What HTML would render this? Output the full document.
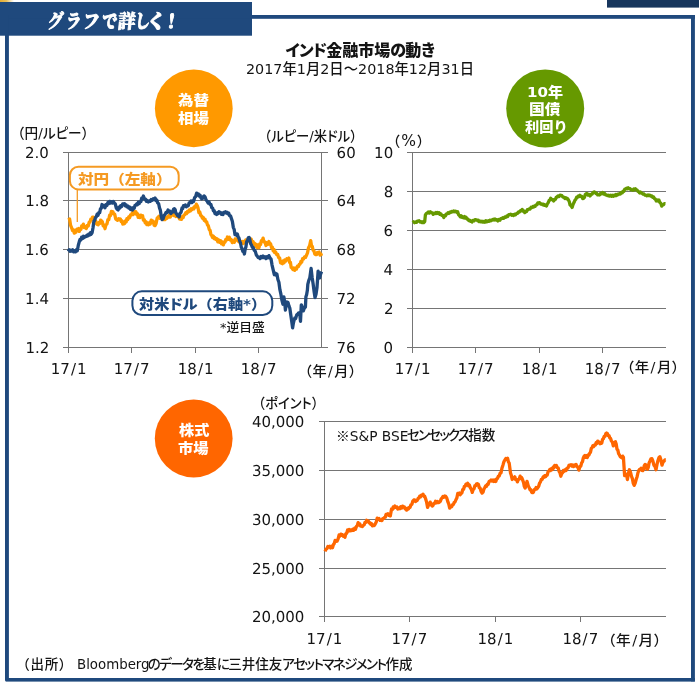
<!DOCTYPE html>
<html lang="ja"><head><meta charset="utf-8"><title>インド金融市場の動き</title>
<style>
html,body{margin:0;padding:0;background:#fff;}
body{width:699px;height:685px;position:relative;overflow:hidden;font-family:"DejaVu Sans","Liberation Sans","Noto Sans CJK JP",sans-serif;color:#141414;}
svg{position:absolute;left:0;top:0;}
.t{font-weight:500;position:absolute;white-space:nowrap;line-height:1.2;transform-origin:0 0;}
.p{font-feature-settings:"palt" 1;letter-spacing:var(--ls,0);}
.hd{font-family:"Liberation Serif","Noto Serif CJK JP","Noto Serif CJK SC",serif;font-weight:900;color:#fff;font-size:19px;-webkit-text-stroke:0.9px currentColor;}
.hd span,.hd i{display:inline-block;transform:skewX(-6deg);font-style:normal;}
.ttl{font-weight:900;font-size:16px;}
.sub{font-size:14.5px;}
.u{font-size:14px;}
.ax{font-size:15px;text-rendering:geometricPrecision;}
.lg{font-weight:900;font-size:13.8px;}
.sm{font-size:12px;}
.nt{font-size:13.5px;}
.src{font-size:13.5px;}
.cl{font-weight:900;font-size:14px;color:#fff;}
.sl{padding:0 1.1px;}
.j{font-family:"Noto Sans CJK JP",sans-serif;}
.g{position:absolute;left:0;top:0;width:0;height:0;}
.s{display:inline-block;position:relative;transform-origin:0 0;vertical-align:top;}
</style></head><body>
<svg width="699" height="685" viewBox="0 0 699 685">
<defs><linearGradient id="gd" x1="0" x2="1" y1="0" y2="0"><stop offset="0" stop-color="#e4ad33"/><stop offset="0.45" stop-color="#e8bd58"/><stop offset="1" stop-color="#ffffff"/></linearGradient></defs>
<rect x="0" y="0" width="14" height="2" fill="url(#gd)"/>
<rect x="607" y="0" width="92" height="7.6" fill="#17365d"/>
<rect x="0" y="2" width="252" height="33.7" fill="#1f497d"/>
<rect x="5" y="15" width="690" height="3.8" fill="#1f497d"/>
<rect x="5" y="15" width="3.9" height="665.8" fill="#1f497d"/>
<rect x="691" y="15" width="3.9" height="666.4" fill="#1f497d"/>
<rect x="5.6" y="678" width="689.3" height="3.6" fill="#1f497d"/>
<circle cx="193.8" cy="108.4" r="38.9" fill="#ff9900"/>
<circle cx="545.2" cy="108.4" r="39" fill="#669900"/>
<circle cx="193.7" cy="438.5" r="38.9" fill="#ff6600"/>
<g fill="#757575" shape-rendering="crispEdges">
<rect x="63" y="152" width="265" height="1"/>
<rect x="63" y="200" width="265" height="1"/>
<rect x="63" y="249" width="265" height="1"/>
<rect x="63" y="298" width="265" height="1"/>
<rect x="63" y="347" width="265" height="1"/>
<rect x="68" y="152" width="1" height="201"/>
<rect x="131" y="348" width="1" height="5"/>
<rect x="195" y="348" width="1" height="5"/>
<rect x="258" y="348" width="1" height="5"/>
<rect x="321" y="152" width="1" height="196"/>
<rect x="407" y="152" width="259" height="1"/>
<rect x="407" y="191" width="259" height="1"/>
<rect x="407" y="230" width="259" height="1"/>
<rect x="407" y="269" width="259" height="1"/>
<rect x="407" y="308" width="259" height="1"/>
<rect x="407" y="347" width="259" height="1"/>
<rect x="412" y="152" width="1" height="201"/>
<rect x="475" y="348" width="1" height="5"/>
<rect x="539" y="348" width="1" height="5"/>
<rect x="602" y="348" width="1" height="5"/>
<rect x="319" y="421" width="347" height="1"/>
<rect x="319" y="470" width="347" height="1"/>
<rect x="319" y="519" width="347" height="1"/>
<rect x="319" y="568" width="347" height="1"/>
<rect x="319" y="616" width="347" height="1"/>
<rect x="324" y="421" width="1" height="201"/>
<rect x="409" y="617" width="1" height="5"/>
<rect x="495" y="617" width="1" height="5"/>
<rect x="580" y="617" width="1" height="5"/>
</g>
<g fill="none" stroke-width="3.3" stroke-linejoin="round" stroke-linecap="butt">
<path stroke="#ff9900" d="M68.4,220.0 L69.6,218.9 L70.6,225.4 L71.7,228.0 L72.6,230.6 L73.4,229.7 L74.3,233.1 L75.2,232.4 L76.0,232.1 L76.7,229.4 L77.5,229.1 L78.4,228.6 L79.3,231.4 L80.1,229.1 L80.9,229.4 L81.7,225.9 L82.5,226.8 L83.4,224.1 L84.3,227.5 L85.3,226.7 L86.3,228.6 L87.3,225.4 L88.2,226.0 L89.2,222.1 L90.0,222.1 L90.8,219.3 L91.6,219.6 L92.5,217.2 L93.3,217.2 L94.1,217.3 L94.9,220.7 L95.7,220.9 L96.6,224.0 L97.4,224.4 L98.2,224.8 L99.0,222.5 L99.8,223.5 L100.6,220.1 L101.5,220.8 L102.3,221.6 L103.2,225.9 L104.1,224.9 L105.0,228.7 L105.9,224.8 L106.9,224.2 L107.9,219.6 L108.8,219.7 L109.6,215.2 L110.5,215.5 L111.4,211.4 L112.2,213.3 L112.9,211.7 L113.7,213.9 L114.7,214.1 L115.7,218.9 L116.6,219.6 L117.6,220.3 L118.6,218.7 L119.6,219.7 L120.4,219.0 L121.2,221.6 L122.0,220.8 L122.8,224.1 L123.6,223.1 L124.5,223.7 L125.3,220.9 L126.1,222.0 L126.9,218.6 L127.7,219.6 L128.7,217.0 L129.6,217.7 L130.5,215.0 L131.5,214.9 L132.4,212.6 L133.3,214.5 L134.2,211.5 L135.0,213.3 L135.9,211.7 L136.7,214.6 L137.4,213.6 L138.2,217.4 L139.1,215.3 L139.9,217.6 L140.8,215.1 L141.7,216.1 L142.6,215.8 L143.4,220.2 L144.3,219.8 L145.2,222.9 L146.0,221.7 L146.8,224.6 L147.6,222.8 L148.5,224.8 L149.3,223.0 L150.2,224.0 L151.2,220.1 L152.2,220.9 L153.2,221.1 L154.1,225.2 L155.1,225.6 L156.1,223.5 L157.1,218.4 L158.0,217.3 L158.9,216.3 L159.8,218.3 L160.7,216.6 L161.5,218.3 L162.4,217.3 L163.3,219.6 L164.2,217.6 L165.0,219.6 L165.9,217.5 L166.8,218.4 L167.7,216.6 L168.5,217.1 L169.4,215.0 L170.3,217.0 L171.2,213.6 L172.0,215.1 L173.0,213.2 L173.9,215.6 L174.8,213.7 L175.8,216.5 L176.7,215.3 L177.6,216.7 L178.6,216.5 L179.5,219.0 L180.5,217.6 L181.4,219.4 L182.3,216.7 L183.1,217.6 L184.0,215.0 L184.9,214.7 L185.8,212.6 L186.6,213.6 L187.5,211.4 L188.4,212.1 L189.3,209.9 L190.3,211.1 L191.2,208.7 L192.1,209.6 L193.1,208.1 L193.9,208.8 L194.7,206.4 L195.5,207.0 L196.3,204.2 L197.2,205.6 L198.0,207.8 L198.9,212.6 L199.8,212.1 L200.7,215.5 L201.5,215.9 L202.4,218.2 L203.3,217.5 L204.2,220.3 L205.0,219.2 L205.9,222.0 L206.7,221.9 L207.5,225.2 L208.2,225.3 L209.3,229.7 L210.1,230.3 L210.9,234.5 L211.7,235.5 L212.6,237.6 L213.4,236.1 L214.3,238.7 L215.2,237.8 L216.1,239.5 L216.9,238.7 L217.8,241.7 L218.7,240.0 L219.6,242.3 L220.6,240.7 L221.5,243.7 L222.4,242.0 L223.4,244.9 L224.2,241.9 L225.0,242.2 L225.8,239.5 L226.6,240.1 L227.4,237.0 L228.4,239.4 L229.4,237.2 L230.4,240.1 L231.3,239.7 L232.3,242.6 L233.3,241.1 L234.3,242.2 L235.2,238.9 L236.2,239.4 L237.1,238.8 L238.0,241.1 L238.8,239.9 L239.7,242.4 L240.6,241.5 L241.5,243.1 L242.3,241.5 L243.2,243.5 L244.1,241.4 L245.0,242.7 L245.8,239.9 L246.7,241.5 L247.6,239.9 L248.5,240.9 L249.3,239.0 L250.2,240.4 L251.2,239.1 L252.1,242.3 L253.0,241.6 L254.0,244.5 L254.9,243.5 L255.7,246.3 L256.5,244.5 L257.3,247.5 L258.2,245.3 L259.0,247.7 L259.8,243.8 L260.6,244.4 L261.4,240.6 L262.2,240.7 L263.1,238.1 L264.0,242.0 L265.0,242.0 L266.0,245.5 L267.0,242.7 L267.9,244.3 L268.9,241.5 L269.8,244.2 L270.7,244.0 L271.5,247.7 L272.4,247.2 L273.2,250.8 L274.0,249.4 L274.7,252.7 L275.7,252.1 L276.7,254.6 L277.7,254.5 L278.6,257.6 L279.6,257.8 L280.6,262.9 L281.5,263.1 L282.4,263.8 L283.2,260.9 L284.0,262.7 L284.8,260.0 L285.8,261.1 L286.8,258.8 L287.8,259.6 L288.8,258.1 L289.6,262.4 L290.4,262.3 L291.2,267.4 L292.0,267.9 L292.9,269.6 L293.8,267.9 L294.7,270.4 L295.6,268.3 L296.5,269.1 L297.4,266.3 L298.4,266.6 L299.3,264.3 L300.1,264.1 L300.9,261.4 L301.7,262.2 L302.6,258.7 L303.5,258.9 L304.5,256.9 L305.5,257.4 L306.5,255.2 L307.5,252.9 L308.5,247.9 L309.6,245.9 L310.7,240.6 L311.5,245.8 L312.3,246.3 L313.1,250.3 L313.9,250.7 L314.8,254.1 L315.7,254.6 L316.6,254.6 L317.4,252.5 L318.3,252.7 L319.1,252.1 L320.0,255.1 L320.8,253.9 L321.6,255.9"/>
<path stroke="#1f497d" d="M68.4,251.5 L69.2,249.7 L70.0,251.2 L70.9,250.2 L71.7,251.1 L72.7,249.8 L73.6,251.9 L74.6,250.9 L75.5,251.8 L76.4,249.8 L77.3,250.8 L78.3,245.3 L79.3,241.6 L80.0,239.4 L80.8,239.9 L81.6,237.1 L82.5,238.6 L83.4,236.3 L84.2,237.6 L85.1,236.3 L86.0,236.5 L86.9,235.3 L87.7,236.0 L88.6,234.2 L89.5,235.1 L90.4,232.8 L91.2,234.3 L92.1,232.7 L93.0,227.8 L93.9,221.2 L94.6,220.5 L95.4,217.8 L96.2,217.1 L97.1,214.3 L98.0,215.3 L98.8,212.7 L99.7,212.6 L100.5,208.7 L101.3,208.3 L102.0,204.5 L103.0,206.8 L104.0,205.6 L105.0,207.7 L105.9,204.6 L106.9,205.4 L107.9,202.5 L108.8,203.5 L109.6,201.4 L110.5,203.0 L111.4,201.7 L112.4,203.1 L113.3,201.4 L114.3,203.1 L115.3,204.0 L116.3,208.0 L117.2,209.2 L118.1,209.9 L119.0,207.2 L119.9,207.9 L120.7,205.6 L121.7,206.4 L122.7,203.9 L123.6,204.1 L124.5,203.7 L125.3,205.8 L126.1,204.8 L126.9,206.9 L127.7,205.9 L128.7,208.0 L129.6,207.0 L130.5,209.5 L131.5,208.1 L132.4,210.1 L133.3,207.7 L134.2,208.3 L135.0,205.4 L135.9,205.3 L136.7,203.9 L137.5,204.7 L138.4,202.1 L139.2,203.6 L140.0,201.9 L140.9,201.7 L141.7,198.2 L142.6,198.9 L143.4,196.0 L144.4,198.8 L145.4,199.0 L146.4,201.4 L147.3,200.6 L148.3,201.9 L149.3,201.0 L150.2,201.4 L151.2,199.6 L152.2,200.3 L153.2,198.8 L154.1,199.5 L155.1,198.1 L156.0,200.6 L156.9,200.3 L157.7,202.9 L158.6,203.5 L159.5,207.9 L160.4,210.4 L161.2,216.0 L162.1,219.6 L163.1,218.7 L164.1,215.4 L165.0,214.6 L166.0,212.4 L167.0,212.7 L168.0,210.0 L168.9,211.8 L169.9,211.3 L170.9,213.6 L171.8,211.6 L172.6,212.1 L173.5,209.2 L174.4,208.7 L175.2,209.8 L175.9,213.3 L176.7,213.9 L177.5,215.6 L178.3,215.3 L179.1,216.9 L180.0,213.3 L181.0,212.3 L182.0,208.0 L182.7,208.7 L183.5,205.6 L184.3,206.2 L185.3,204.9 L186.3,206.8 L187.2,205.9 L188.2,205.8 L189.2,202.9 L190.1,202.3 L191.0,201.1 L191.9,202.6 L192.8,200.8 L193.6,201.4 L194.6,197.7 L195.6,196.7 L196.6,193.1 L197.4,195.1 L198.3,193.9 L199.2,196.0 L200.1,195.3 L200.9,197.8 L201.8,198.8 L202.6,198.5 L203.4,196.5 L204.2,195.9 L205.1,197.1 L206.1,200.0 L207.1,201.1 L208.1,203.1 L209.0,201.9 L210.0,204.4 L210.9,204.3 L211.7,207.7 L212.6,208.0 L213.4,210.7 L214.2,210.7 L215.0,213.6 L215.8,213.4 L216.6,214.5 L217.4,212.6 L218.2,213.5 L219.0,211.7 L219.9,212.3 L220.6,212.5 L221.4,214.4 L222.2,214.2 L223.0,214.6 L223.7,212.3 L224.5,212.3 L225.3,211.8 L226.2,213.1 L227.0,212.3 L227.8,213.8 L228.6,212.9 L229.6,215.7 L230.6,215.9 L231.5,218.8 L232.4,221.5 L233.3,227.3 L234.2,229.5 L235.0,234.7 L235.8,233.5 L236.6,235.2 L237.4,234.1 L238.2,237.2 L238.9,237.8 L239.7,241.0 L240.5,243.0 L241.3,247.2 L242.0,248.6 L242.8,251.3 L243.6,250.9 L244.4,254.0 L245.2,249.1 L245.9,247.0 L246.7,241.6 L247.5,240.7 L248.3,237.8 L249.1,237.4 L249.8,239.3 L250.6,243.7 L251.4,244.9 L252.4,247.3 L253.3,247.8 L254.3,250.4 L255.3,251.4 L256.3,254.9 L257.2,256.1 L258.2,257.5 L259.2,257.1 L260.1,258.6 L261.1,256.5 L262.1,257.5 L263.1,256.0 L264.0,257.6 L265.0,256.8 L266.0,258.6 L267.0,256.7 L267.9,257.7 L268.9,255.6 L270.0,258.0 L271.0,258.9 L272.0,264.8 L273.0,269.1 L274.3,274.7 L275.2,273.1 L276.1,275.2 L276.9,274.1 L277.9,279.5 L278.9,282.3 L279.9,289.7 L280.9,294.2 L281.9,300.2 L282.9,304.2 L283.9,296.9 L284.7,302.4 L285.4,310.0 L286.2,304.8 L287.0,302.0 L288.0,302.5 L289.0,306.1 L289.8,308.1 L290.5,313.0 L291.6,320.6 L292.6,327.9 L293.4,323.1 L294.1,320.2 L294.9,317.9 L295.7,318.4 L296.7,314.9 L297.7,314.2 L298.7,312.8 L299.7,313.0 L300.5,321.3 L301.3,304.8 L302.3,306.9 L303.3,310.9 L304.3,308.2 L305.4,307.1 L305.9,296.8 L306.6,294.7 L307.4,290.0 L307.8,284.4 L308.8,280.3 L309.8,278.0 L311.1,268.5 L312.1,277.3 L313.1,283.7 L314.1,291.5 L315.0,297.5 L316.0,294.2 L317.0,287.6 L318.1,271.2 L318.8,273.5 L319.6,278.0 L320.6,274.0 L321.6,271.6"/>
<path stroke="#669900" d="M412.6,222.5 L413.6,221.8 L414.5,222.7 L415.5,222.0 L416.4,222.4 L417.3,221.2 L418.1,221.1 L419.1,220.7 L420.1,222.0 L421.1,221.6 L422.1,222.6 L423.0,221.7 L423.8,222.6 L424.7,221.7 L425.4,214.9 L426.4,213.4 L427.3,213.0 L428.3,212.0 L429.3,213.0 L430.3,211.8 L431.3,212.6 L432.3,212.9 L433.2,214.3 L434.1,213.1 L435.0,213.5 L435.9,212.6 L436.7,213.4 L437.5,212.5 L438.3,213.6 L439.2,212.8 L440.0,214.4 L440.9,213.9 L441.8,215.5 L442.8,215.7 L443.8,217.5 L444.6,215.5 L445.5,215.8 L446.4,213.9 L447.2,213.9 L448.0,212.8 L448.9,213.4 L449.7,212.1 L450.7,212.5 L451.6,211.4 L452.6,211.9 L453.6,210.9 L454.6,211.7 L455.6,211.1 L456.6,212.3 L457.6,211.7 L458.5,214.6 L459.5,215.7 L460.3,216.9 L461.2,215.8 L462.0,217.3 L462.8,216.9 L463.6,217.8 L464.5,216.6 L465.3,218.1 L466.1,217.3 L467.0,219.0 L467.8,219.0 L468.7,220.5 L469.5,220.1 L470.4,221.3 L471.2,221.0 L472.0,221.9 L473.0,220.4 L474.0,220.9 L475.0,219.6 L475.9,219.9 L476.8,219.8 L477.6,220.8 L478.4,220.3 L479.2,221.6 L480.2,221.1 L481.1,221.9 L482.0,221.2 L482.9,222.1 L483.8,221.4 L484.8,222.2 L485.8,220.7 L486.8,221.8 L487.8,220.9 L488.8,221.3 L489.7,220.3 L490.7,220.8 L491.7,219.8 L492.5,220.1 L493.4,219.2 L494.2,219.9 L495.0,219.1 L496.0,220.0 L496.9,219.6 L497.9,220.9 L498.9,219.5 L499.9,220.2 L500.8,218.6 L501.8,218.7 L502.8,217.7 L503.8,218.3 L504.8,217.0 L505.8,217.4 L506.8,216.0 L507.7,216.5 L508.7,214.7 L509.7,214.7 L510.7,214.1 L511.7,215.2 L512.7,214.7 L513.6,215.5 L514.6,214.2 L515.6,214.7 L516.6,213.5 L517.6,213.4 L518.5,212.0 L519.4,212.0 L520.4,210.6 L521.3,210.9 L522.2,209.5 L523.1,211.1 L523.9,211.0 L524.8,212.6 L525.6,211.3 L526.5,211.5 L527.3,209.7 L528.1,209.8 L529.1,208.8 L530.1,209.0 L531.1,207.2 L532.0,207.5 L532.9,206.5 L533.7,207.1 L534.5,205.9 L535.3,206.2 L536.1,204.8 L537.0,204.7 L537.8,203.0 L538.6,202.9 L539.6,202.7 L540.6,204.1 L541.6,203.8 L542.6,204.7 L543.5,204.2 L544.5,205.4 L545.5,205.1 L546.5,206.0 L547.4,203.7 L548.2,202.7 L549.1,200.5 L549.9,200.1 L550.7,198.2 L551.7,199.5 L552.7,199.6 L553.7,201.0 L554.5,199.3 L555.4,199.4 L556.2,197.5 L557.0,197.0 L558.0,195.9 L559.0,196.6 L560.0,195.2 L560.9,195.4 L561.9,195.7 L562.9,197.1 L563.9,197.1 L564.9,198.4 L565.7,197.7 L566.5,198.9 L567.4,198.5 L568.2,199.5 L569.2,201.4 L570.1,205.0 L571.1,205.6 L572.1,207.4 L573.1,204.3 L574.1,202.3 L575.0,200.2 L575.8,199.4 L576.7,197.2 L577.5,197.4 L578.4,196.0 L579.2,196.6 L580.0,195.3 L580.9,196.5 L581.8,196.5 L582.7,198.7 L583.5,198.5 L584.4,197.5 L585.3,194.5 L586.2,193.7 L587.2,193.6 L588.1,195.1 L589.1,194.5 L590.1,196.0 L591.1,194.3 L592.1,194.1 L593.1,192.4 L594.1,191.9 L595.0,192.2 L595.9,193.5 L596.8,193.3 L597.7,194.9 L598.6,194.8 L599.6,195.0 L600.6,193.3 L601.6,193.9 L602.6,192.4 L603.6,194.0 L604.6,193.5 L605.5,194.9 L606.5,195.0 L607.5,195.7 L608.4,195.2 L609.3,196.1 L610.3,195.2 L611.2,196.2 L612.2,195.2 L613.1,196.2 L614.0,195.3 L614.9,195.8 L615.7,194.6 L616.6,195.4 L617.5,194.1 L618.4,194.6 L619.3,193.7 L620.3,194.0 L621.3,192.5 L622.3,192.8 L623.1,191.1 L623.9,191.4 L624.8,189.1 L625.6,189.1 L626.5,188.3 L627.3,188.8 L628.2,187.8 L629.2,188.8 L630.2,188.7 L631.2,189.9 L632.2,189.8 L633.0,190.2 L633.8,189.0 L634.6,189.7 L635.4,188.7 L636.3,189.8 L637.1,190.0 L637.9,191.3 L638.7,191.7 L639.5,192.9 L640.4,191.9 L641.2,193.2 L642.0,193.1 L643.0,194.2 L644.0,194.0 L645.0,195.2 L645.9,195.1 L646.9,195.8 L647.9,194.9 L648.9,195.6 L649.9,195.1 L650.8,196.1 L651.8,195.8 L652.7,197.3 L653.6,197.0 L654.5,198.6 L655.4,199.2 L656.3,200.9 L657.2,200.0 L658.0,201.0 L658.9,200.0 L659.8,202.4 L660.7,203.0 L661.7,206.1 L662.5,204.9 L663.3,204.8 L664.4,203.6 L665.5,203.7"/>
<path stroke="#ff6600" d="M325.0,551.4 L326.0,549.3 L326.9,548.7 L327.9,546.4 L328.8,547.1 L329.7,546.3 L330.6,547.9 L331.6,546.3 L332.5,547.7 L333.4,544.6 L334.2,543.6 L335.1,540.4 L336.1,541.4 L337.1,541.2 L338.1,538.8 L339.1,535.0 L339.9,536.1 L340.8,534.1 L341.7,535.2 L342.5,534.8 L343.3,536.3 L344.1,535.5 L345.0,537.2 L345.8,533.7 L346.7,533.3 L347.6,530.0 L348.4,530.9 L349.2,529.4 L350.1,530.8 L350.9,530.0 L351.8,530.6 L352.7,529.3 L353.6,530.3 L354.6,528.2 L355.5,529.2 L356.4,526.4 L357.2,525.9 L358.1,522.6 L358.9,524.7 L359.7,523.7 L360.6,526.1 L361.4,525.9 L362.4,526.6 L363.4,525.3 L364.2,524.7 L365.0,522.4 L365.8,522.5 L366.6,520.2 L367.5,521.3 L368.3,520.9 L369.1,522.8 L369.9,522.6 L370.7,524.2 L371.6,523.7 L372.4,525.9 L373.2,525.4 L374.2,525.5 L375.2,524.0 L376.2,522.1 L377.2,518.1 L378.1,519.4 L379.1,518.5 L380.1,520.4 L381.1,520.0 L381.9,520.6 L382.7,518.6 L383.6,518.7 L384.4,517.5 L385.3,517.2 L386.1,514.3 L387.0,514.0 L387.8,513.7 L388.6,515.2 L389.5,514.6 L390.3,515.9 L391.6,508.8 L392.4,509.4 L393.2,506.9 L394.1,508.0 L394.9,506.0 L395.9,507.3 L396.9,507.0 L397.8,509.0 L398.8,508.1 L399.8,508.7 L400.7,506.8 L401.6,508.1 L402.5,506.1 L403.4,506.8 L404.3,506.9 L405.1,508.8 L405.9,508.6 L406.7,510.1 L407.5,508.2 L408.4,509.0 L409.2,507.5 L410.0,507.4 L410.9,504.9 L411.9,504.3 L412.8,501.1 L413.8,500.0 L414.7,499.9 L415.5,501.6 L416.4,500.8 L417.2,500.4 L418.1,498.5 L418.9,498.0 L419.7,496.3 L420.5,496.8 L421.4,495.1 L422.2,495.3 L423.0,494.2 L423.9,496.3 L424.7,496.2 L425.6,498.7 L426.6,502.1 L427.6,507.4 L428.5,504.9 L429.3,504.9 L430.2,502.1 L431.2,504.8 L432.2,506.1 L433.0,505.5 L433.8,503.5 L434.7,503.4 L435.5,501.3 L436.5,502.8 L437.4,501.4 L438.4,502.6 L439.4,502.2 L440.3,501.3 L441.2,498.9 L442.0,498.0 L443.0,496.4 L443.9,497.2 L444.8,496.0 L445.7,496.3 L446.8,498.1 L448.0,502.2 L448.8,504.1 L449.7,508.1 L450.6,506.0 L451.6,506.8 L452.6,504.6 L453.4,504.5 L454.2,502.4 L455.0,502.0 L455.8,500.0 L456.8,498.1 L457.8,493.4 L458.6,494.4 L459.5,493.1 L460.3,494.7 L461.1,493.5 L461.9,492.9 L462.7,489.6 L463.6,489.2 L464.4,486.3 L465.2,486.3 L466.0,484.1 L466.8,485.1 L467.7,483.2 L468.5,485.7 L469.4,485.0 L470.3,487.7 L471.3,489.3 L472.3,492.4 L473.1,489.5 L474.0,488.9 L474.9,485.6 L475.8,485.5 L476.6,483.8 L477.5,483.7 L478.4,484.4 L479.3,487.7 L480.1,488.1 L481.1,491.4 L482.1,493.1 L483.0,492.2 L483.9,489.0 L484.7,487.8 L485.6,486.0 L486.5,486.4 L487.4,484.2 L488.2,484.3 L489.1,481.4 L490.0,481.2 L491.0,480.1 L492.1,481.1 L493.1,479.9 L494.0,481.4 L494.9,479.9 L495.8,481.4 L496.6,478.9 L497.5,478.3 L498.4,476.3 L499.3,475.9 L500.1,473.2 L501.0,473.0 L502.0,467.9 L503.0,464.9 L504.0,461.5 L505.0,459.8 L505.8,458.5 L506.7,459.3 L507.6,458.3 L508.4,461.9 L509.2,463.2 L510.5,472.9 L511.3,475.3 L512.2,479.5 L513.1,477.9 L513.9,478.3 L514.8,476.8 L515.7,479.7 L516.6,479.9 L517.4,481.9 L518.3,479.3 L519.2,479.2 L520.1,476.2 L520.9,478.2 L521.8,477.8 L522.7,480.2 L523.5,482.3 L524.3,486.4 L525.1,488.1 L526.1,485.5 L527.0,481.3 L528.2,485.6 L529.3,487.9 L530.1,489.9 L530.9,489.7 L531.7,492.2 L532.6,492.7 L533.4,492.3 L534.3,489.8 L535.2,489.3 L536.1,487.6 L536.9,488.9 L537.8,487.5 L538.7,486.2 L539.6,483.0 L540.4,482.1 L541.3,479.4 L542.2,479.3 L543.1,477.0 L543.9,477.3 L544.7,475.6 L545.5,476.7 L546.4,475.4 L547.2,475.1 L548.1,471.6 L549.0,471.0 L549.8,469.5 L550.6,470.4 L551.4,468.7 L552.3,469.6 L553.1,467.3 L553.9,467.8 L554.7,465.4 L555.5,465.8 L556.4,465.5 L557.3,467.7 L558.2,467.8 L559.1,471.4 L559.9,472.7 L560.8,476.2 L561.7,473.7 L562.6,472.7 L563.4,470.4 L564.3,471.2 L565.2,469.7 L566.1,470.4 L567.0,468.1 L568.0,468.0 L569.0,465.4 L570.0,465.0 L570.9,464.7 L571.8,466.1 L572.7,465.0 L573.6,466.6 L574.5,465.1 L575.3,465.8 L576.1,464.5 L577.0,466.7 L578.0,467.7 L578.9,470.1 L579.9,466.6 L580.8,466.2 L581.7,462.7 L582.5,461.7 L583.3,457.9 L584.1,456.3 L584.9,455.6 L585.7,457.2 L586.5,455.8 L587.3,457.5 L588.1,454.9 L588.9,455.1 L589.7,453.2 L590.5,452.2 L591.3,448.4 L592.1,447.5 L592.9,445.7 L593.7,446.6 L594.5,445.0 L595.3,445.1 L596.1,442.8 L596.9,443.4 L597.7,441.1 L598.5,442.6 L599.3,442.2 L600.1,443.8 L600.9,443.5 L601.8,443.0 L602.6,439.2 L603.4,438.6 L604.2,436.3 L605.0,436.3 L605.8,433.6 L606.6,433.0 L607.4,433.6 L608.2,435.5 L609.0,435.6 L609.8,437.9 L610.6,438.4 L611.4,441.0 L612.4,442.1 L613.3,445.9 L614.4,443.1 L615.4,441.7 L616.2,444.1 L617.0,449.2 L617.8,449.9 L618.6,453.7 L619.4,454.9 L620.2,456.7 L621.0,457.3 L621.8,457.7 L622.6,456.1 L623.4,457.2 L624.6,475.6 L625.6,475.6 L626.6,474.2 L627.4,479.5 L628.4,473.5 L629.4,469.8 L630.4,472.0 L631.5,476.4 L632.4,478.6 L633.3,483.4 L634.2,485.4 L635.2,483.1 L636.3,479.0 L637.1,476.7 L637.9,473.0 L638.7,470.7 L639.5,469.5 L640.3,469.7 L641.1,468.3 L641.9,470.5 L642.7,470.7 L643.5,469.6 L644.3,465.6 L645.1,464.4 L645.9,464.9 L646.7,468.6 L647.5,469.2 L648.3,467.3 L649.1,462.9 L649.9,461.2 L650.9,458.9 L651.9,458.7 L652.9,461.2 L653.9,465.2 L655.0,466.6 L656.0,469.8 L657.0,464.4 L658.0,460.4 L658.9,457.7 L659.9,456.7 L660.9,459.8 L662.0,465.2 L663.0,462.2 L664.1,461.1 L664.9,459.8 L665.7,460.0"/>
</g>
<g fill="#fff">
<path d="M77.3,222 V189" stroke="#f59a23" stroke-width="1.3" fill="none"/>
<rect x="69.9" y="166.8" width="108.8" height="22.6" rx="8.5" ry="8.5" stroke="#f59a23" stroke-width="2"/>
<rect x="132.4" y="291.3" width="139.9" height="23.8" rx="9.5" ry="9.5" stroke="#1f497d" stroke-width="2"/>
</g>
</svg>
<div class="t hd" style="left:0;top:10.50px;"><span class="s" style="left:48.32px;transform:scaleX(0.8000);"><i>グ</i></span><span class="s" style="left:47.12px;transform:scaleX(0.8006);"><i>ラ</i></span><span class="s" style="left:44.68px;transform:scaleX(0.8756);"><i>フ</i></span><span class="s" style="left:44.70px;transform:scaleX(0.8000);"><i>で</i></span><span class="s" style="left:41.47px;transform:scaleX(0.9211);"><i>詳</i></span><span class="s" style="left:39.88px;transform:scaleX(0.8000);"><i>し</i></span><span class="s" style="left:31.94px;transform:scaleX(1.1000);"><i>く</i></span><span class="s" style="left:29.16px;transform:scaleX(0.9800);"><i>！</i></span>
</div>
<div class="t ttl" style="left:285.35px;top:41.00px;--ls:-0.74px;"><span class=p>インド</span>金融市場<span class=p>の</span>動<span class=p>き</span></div>
<div class="t sub" style="left:245.83px;top:60.62px;transform:scaleX(0.9883);">2017年1月2日～2018年12月31日</div>
<div class="t u" style="left:11.20px;top:125.23px;transform:scaleX(0.9719);">（円/<span class=p>ルピー</span>）</div>
<div class="t u" style="left:257.61px;top:127.85px;transform:scaleX(0.9498);">（<span class=p>ルピー</span>/米<span class=p>ドル</span>）</div>
<div class="t u" style="left:386.13px;top:131.51px;letter-spacing:1.00px;">（<span style="font-size:15.5px">%</span>）</div>
<div class="t u" style="left:251.95px;top:395.01px;transform:scaleX(0.9457);">（<span class=p>ポイント</span>）</div>
<div class="t ax" style="left:25.05px;top:143.90px;">2.0</div>
<div class="t ax" style="left:25.14px;top:191.76px;">1.8</div>
<div class="t ax" style="left:25.02px;top:240.78px;">1.6</div>
<div class="t ax" style="left:25.10px;top:289.80px;">1.4</div>
<div class="t ax" style="left:25.51px;top:338.91px;">1.2</div>
<div class="t ax" style="left:336.60px;top:143.82px;">60</div>
<div class="t ax" style="left:336.60px;top:191.82px;">64</div>
<div class="t ax" style="left:336.60px;top:240.78px;">68</div>
<div class="t ax" style="left:336.45px;top:289.90px;">72</div>
<div class="t ax" style="left:336.45px;top:338.78px;">76</div>
<div class="t ax" style="left:374.10px;top:143.82px;">10</div>
<div class="t ax" style="left:383.68px;top:182.78px;">8</div>
<div class="t ax" style="left:383.56px;top:221.82px;">6</div>
<div class="t ax" style="left:383.58px;top:260.80px;">4</div>
<div class="t ax" style="left:384.10px;top:299.90px;">2</div>
<div class="t ax" style="left:383.59px;top:338.82px;">0</div>
<div class="t ax" style="left:251.89px;top:413.04px;">40,000</div>
<div class="t ax" style="left:251.89px;top:462.04px;">35,000</div>
<div class="t ax" style="left:251.89px;top:511.04px;">30,000</div>
<div class="t ax" style="left:251.89px;top:560.04px;">25,000</div>
<div class="t ax" style="left:251.89px;top:608.04px;">20,000</div>
<div class="t ax" style="left:50.77px;top:359.73px;">17<span class="sl">/</span>1</div>
<div class="t ax" style="left:113.73px;top:359.73px;">17<span class="sl">/</span>7</div>
<div class="t ax" style="left:177.77px;top:359.83px;">18<span class="sl">/</span>1</div>
<div class="t ax" style="left:240.73px;top:359.83px;">18<span class="sl">/</span>7</div>
<div class="t ax" style="left:394.77px;top:359.73px;">17<span class="sl">/</span>1</div>
<div class="t ax" style="left:457.73px;top:359.73px;">17<span class="sl">/</span>7</div>
<div class="t ax" style="left:521.77px;top:359.83px;">18<span class="sl">/</span>1</div>
<div class="t ax" style="left:584.73px;top:359.83px;">18<span class="sl">/</span>7</div>
<div class="t ax" style="left:306.47px;top:630.03px;">17<span class="sl">/</span>1</div>
<div class="t ax" style="left:391.43px;top:630.03px;">17<span class="sl">/</span>7</div>
<div class="t ax" style="left:477.47px;top:630.13px;">18<span class="sl">/</span>1</div>
<div class="t ax" style="left:562.43px;top:630.13px;">18<span class="sl">/</span>7</div>
<div class="t u" style="left:298.12px;top:362.64px;transform:scaleX(1.0116);letter-spacing:0.3px;">（年<span class=sl>/</span>月）</div>
<div class="t u" style="left:619.95px;top:359.14px;transform:scaleX(1.0293);letter-spacing:0.3px;">（年<span class=sl>/</span>月）</div>
<div class="t u" style="left:601.36px;top:631.84px;transform:scaleX(1.0493);letter-spacing:0.3px;">（年<span class=sl>/</span>月）</div>
<div class="t lg" style="left:78.04px;top:171.24px;transform:scaleX(1.1290);color:#f59a23;">対円（左軸）</div>
<div class="t lg" style="left:139.36px;top:295.58px;transform:scaleX(1.1000);color:#1f497d;">対米<span class=p>ドル</span>（右軸*）</div>
<div class="t sm" style="left:220.48px;top:320.70px;transform:scaleX(1.0654);">*逆目盛</div>
<div class="t nt" style="left:0;top:427.45px;"><span class="s" style="left:335.55px;transform:scaleX(1.0182);"><span class=j>※</span>S&amp;P BSE</span><span class="s" style="left:335.74px;--ls:-1.81px;"><span class=p>センセックス</span>指数</span>
</div>
<div class="t src" style="left:0;top:656.30px;"><span class="s" style="left:16.37px;letter-spacing:0.66px;">（出所）</span> <span class="s" style="left:15.83px;top:-0.08px;transform:scaleX(0.9879);">Bloomberg</span><span class="s" style="left:13.39px;top:-0.08px;--ls:-1.54px;"><span class=p>のデータを</span>基<span class=p>に</span>三井住友<span class=p>アセットマネジメント</span>作成</span>
</div>
<div class="g"><span class="t cl" style="left:178.10px;top:91.92px;transform:scaleX(1.1045);">為替</span><span class="t cl" style="left:178.01px;top:110.00px;transform:scaleX(1.0994);">相場</span>
</div>
<div class="g"><span class="t cl" style="left:527.20px;top:83.82px;transform:scaleX(1.0759);">10年</span><span class="t cl" style="left:529.47px;top:101.47px;transform:scaleX(1.1281);">国債</span><span class="t cl" style="left:524.97px;top:119.25px;transform:scaleX(1.0146);">利回り</span>
</div>
<div class="g"><span class="t cl" style="left:178.54px;top:422.35px;transform:scaleX(1.0833);">株式</span><span class="t cl" style="left:178.32px;top:440.40px;transform:scaleX(1.0885);">市場</span>
</div>
</body></html>
